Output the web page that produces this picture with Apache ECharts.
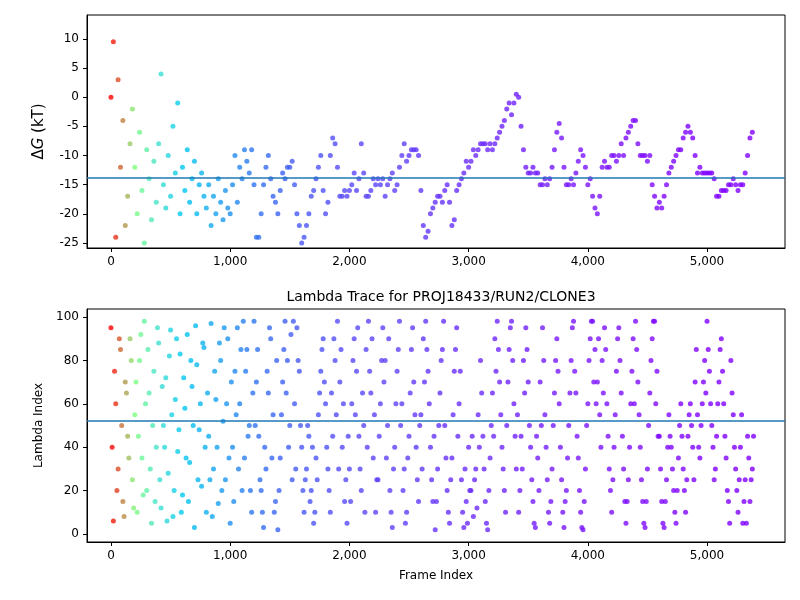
<!DOCTYPE html>
<html>
<head>
<meta charset="utf-8">
<script src="https://cdn.jsdelivr.net/npm/echarts@6/dist/echarts.min.js"></script>
<style>html,body{margin:0;background:#fff}#chart{width:800px;height:600px}</style>
</head>
<body>
<div id="chart"></div>
<script>
// frames step for sampled values
const FRAME_STEP = 20;

// tick labels
const frameTicks = [0, 1000, 2000, 3000, 4000, 5000];
const deltaGTicks = [-25, -20, -15, -10, -5, 0, 5, 10];
const lambdaTicks = [0, 20, 40, 60, 80, 100];

// ΔG (kT) read every 20 frames
const deltaG = [
  0, 9.5, -24, 3, -12, -4, -22, -17, -8, -2,
  -12, -20, -6, -16, -25, -9, -14, -21, -11, -18,
  -8, 4, -15, -19, -10, -17, -5, -13, -1, -20,
  -12, -16, -9, -18, -14, -11, -20, -15, -13, -17,
  -19, -15, -22, -17, -20, -14, -18, -21, -16, -19,
  -20, -15, -10, -18, -12, -14, -9, -11, -13, -9,
  -15, -24, -24, -20, -15, -12, -10, -14, -17, -18,
  -20, -16, -13, -14, -12, -12, -11, -15, -20, -22,
  -25, -24, -22, -20, -17, -16, -14, -12, -10, -16,
  -20, -18, -10, -7, -8, -12, -17, -17, -16, -17,
  -16, -15, -13, -16, -14, -8, -13, -17, -17, -16,
  -14, -15, -14, -15, -14, -17, -15, -14, -13, -16,
  -15, -12, -10, -8, -11, -10, -9, -9, -9, -10,
  -16, -22, -24, -23, -20, -19, -18, -17, -17, -18,
  -16, -15, -18, -22, -21, -16, -15, -14, -13, -11,
  -12, -11, -9, -10, -9, -8, -8, -8, -9, -8,
  -9, -8, -7, -6, -5, -4, -2, -1, -3, -1,
  0.5, 0, -5, -9, -12, -13, -13, -12, -13, -13,
  -15, -15, -14, -15, -14, -12, -9, -6, -4.5, -7,
  -12, -15, -15, -14, -15, -13, -11, -9, -10, -12,
  -15, -14, -17, -19, -20, -17, -12, -11, -12, -12,
  -10, -10, -11, -10, -8, -10, -7, -6, -5, -4,
  -4, -8, -10, -10, -10, -11, -10, -15, -17, -19,
  -18, -19, -17, -15, -13, -12, -11, -10, -9, -9,
  -7, -6, -5, -6, -7, -10, -13, -12, -13, -13,
  -13, -13, -13, -14, -17, -17, -16, -16, -16, -15,
  -15, -14, -15, -16, -15, -15, -13, -10, -7, -6
];

// lambda index, frames 0,20,40,...
const lambdaA = [
  95, 6, 60, 30, 85, 15, 70, 45, 90, 25,
  55, 10, 80, 35, 98, 20, 65, 5, 75, 40,
  88, 12, 50, 72, 28, 94, 8, 62, 38, 83,
  18, 58, 92, 33, 68, 3, 78, 48, 22, 86,
  10, 45, 97, 30, 62, 14, 80, 52, 25, 90,
  5, 40, 75, 95, 60, 20, 35, 85, 50, 10,
  98, 70, 45, 20, 3, 30, 65, 90, 55, 15,
  2, 35, 70, 98, 80, 50, 25, 60, 95, 75,
  40, 10, 30, 45, 20, 5, 35, 55, 75, 90,
  60, 30, 10, 45, 80, 98, 70, 40, 15, 5,
  30, 60, 90, 75, 45, 20, 50, 85, 98, 65,
  35, 10, 25, 60, 95, 80, 50, 20, 3, 40,
  75, 98, 60, 30, 10, 45, 85, 70, 40, 15,
  55, 90, 98, 75, 40, 15, 2, 30, 65, 85,
  50, 20, 5, 35, 75, 95, 60, 25, 3, 15,
  40, 20, 8, 30, 55, 80, 45, 15, 2, 35,
  65, 90, 98, 70, 40, 20, 50, 85, 98, 60,
  30, 10, 45, 80, 95, 70, 40, 15, 3, 35,
  70, 95, 55, 25, 5, 30, 65, 90, 60, 25,
  3, 20, 50, 80, 98, 65, 35, 10, 2, 30,
  60, 90, 98, 85, 70, 55, 80, 95, 60, 30,
  10, 40, 75, 95, 65, 30, 5, 25, 60, 90,
  98, 70, 40, 15, 3, 30, 65, 90, 98, 75,
  45, 15, 3, 25, 55, 40, 20, 5, 35, 60,
  30, 10, 45, 60, 40, 70, 55, 35, 60, 80,
  98, 75, 50, 25, 45, 70, 90, 60, 35, 15,
  80, 55, 30, 10, 40, 5, 25, 45, 15, 30
];

// lambda index, frames 10,30,50,...
const lambdaB = [
  40, 75, 20, 90, 50, 8, 65, 35, 80, 12,
  70, 45, 92, 18, 60, 85, 30, 50, 15, 95,
  25, 68, 40, 6, 82, 55, 20, 90, 48, 10,
  72, 35, 15, 80, 50, 96, 25, 60, 88, 40,
  65, 25, 8, 75, 40, 88, 20, 95, 60, 35,
  70, 15, 55, 30, 85, 98, 75, 45, 20, 65,
  50, 85, 25, 10, 40, 75, 95, 35, 10, 80,
  20, 55, 85, 65, 40, 92, 98, 30, 80, 50,
  20, 25, 50, 15, 40, 10, 25, 65, 85, 70,
  40, 20, 65, 90, 55, 30, 85, 60, 25, 45,
  15, 80, 55, 95, 30, 65, 10, 40, 75, 90,
  55, 25, 45, 80, 70, 35, 90, 10, 30, 60,
  85, 50, 20, 5, 35, 65, 95, 55, 25, 50,
  30, 70, 85, 60, 25, 45, 15, 50, 80, 98,
  35, 10, 25, 55, 85, 45, 75, 10, 30, 5,
  20, 45, 25, 12, 40, 65, 30, 5, 20, 50,
  45, 75, 85, 55, 30, 10, 70, 95, 80, 45,
  55, 20, 30, 65, 85, 50, 25, 5, 45, 20,
  50, 80, 40, 10, 15, 50, 80, 75, 40, 10,
  15, 35, 65, 95, 75, 45, 20, 3, 15, 50,
  80, 98, 70, 60, 90, 40, 65, 85, 45, 20,
  25, 55, 90, 80, 45, 15, 15, 40, 75, 60,
  85, 55, 25, 5, 15, 50, 80, 98, 60, 45,
  30, 5, 15, 40, 45, 30, 10, 20, 50, 45,
  20, 25, 55, 50, 25, 85, 40, 50, 70, 65,
  85, 60, 40, 30, 60, 85, 75, 45, 20, 5,
  65, 40, 20, 25, 55, 15, 5, 35, 25, 45
];

const meanDeltaG = -13.8;
const meanLambda = 52;

const frameColors = ['#ff0000', '#80ff80', '#40e0d0', '#00c8f0', '#10b0f0', '#2090f0',
  '#3074f0', '#3c64f2', '#4858f4', '#5050f8', '#5848f8', '#5c44f8', '#6040f8', '#6238f9',
  '#6630fa', '#6a2cfa', '#6e28fb', '#7020fb', '#741cfc', '#7818fc', '#7a14fd', '#7c10fd',
  '#7e0cfe', '#7f08fe', '#8004ff', '#8000ff', '#8000ff', '#8000ff'];

const topData = deltaG.map((y, i) => [i * FRAME_STEP, y]);
const botData = lambdaA.map((y, i) => [i * FRAME_STEP, y])
  .concat(lambdaB.map((y, i) => [i * FRAME_STEP + 10, y]));

// axis with fixed tick positions (matplotlib style)
function makeAxis(extra, ticks) {
  return Object.assign({
    type: 'value',
    axisLine: { show: true, onZero: false, lineStyle: { color: '#000' } },
    axisTick: { show: true, length: 4, lineStyle: { color: '#000' }, customValues: ticks },
    axisLabel: { color: '#000', fontSize: 12, fontFamily: 'DejaVu Sans', customValues: ticks },
    splitLine: { show: false }
  }, extra);
}
const box = { show: true, borderColor: '#000', borderWidth: 1 };

const chart = echarts.init(document.getElementById('chart'));
chart.setOption({
  animation: false,
  textStyle: { fontFamily: 'DejaVu Sans' },
  title: {
    text: 'Lambda Trace for PROJ18433/RUN2/CLONE3',
    left: 436, top: 285, textAlign: 'center',
    textStyle: { fontSize: 14, fontWeight: 'normal', color: '#000' }
  },
  visualMap: {
    show: false, type: 'continuous', dimension: 0, min: 0, max: 5400,
    seriesIndex: [0, 1], inRange: { color: frameColors }
  },
  grid: [
    Object.assign({ left: 87, right: 15, top: 15, height: 233 }, box),
    Object.assign({ left: 87, right: 15, top: 309, height: 233 }, box)
  ],
  xAxis: [
    makeAxis({ gridIndex: 0, min: -201, max: 5654 }, frameTicks),
    makeAxis({ gridIndex: 1, min: -201, max: 5654, name: 'Frame Index',
      nameLocation: 'middle', nameGap: 28, nameTextStyle: { color: '#000', fontSize: 12 } }, frameTicks)
  ],
  yAxis: [
    makeAxis({ gridIndex: 0, min: -25.86, max: 14.1,
      name: '{d|Δ}{g|G}{d| (kT)}', nameLocation: 'middle', nameGap: 40, nameRotate: 90,
      nameTextStyle: { rich: { d: { fontSize: 15, color: '#000' }, g: { fontSize: 15, fontStyle: 'italic', color: '#000' } } }
    }, deltaGTicks),
    makeAxis({ gridIndex: 1, min: -3.7, max: 103.7,
      name: 'Lambda Index', nameLocation: 'middle', nameGap: 40, nameTextStyle: { color: '#000', fontSize: 12 }
    }, lambdaTicks)
  ],
  series: [
    {
      type: 'scatter', xAxisIndex: 0, yAxisIndex: 0, data: topData, symbolSize: 5,
      markLine: { silent: true, symbol: 'none', label: { show: false },
        lineStyle: { color: '#1f77b4', type: 'solid', width: 1.5 }, data: [{ yAxis: meanDeltaG }] }
    },
    {
      type: 'scatter', xAxisIndex: 1, yAxisIndex: 1, data: botData, symbolSize: 5,
      markLine: { silent: true, symbol: 'none', label: { show: false },
        lineStyle: { color: '#1f77b4', type: 'solid', width: 1.5 }, data: [{ yAxis: meanLambda }] }
    }
  ]
});
</script>
</body>
</html>
